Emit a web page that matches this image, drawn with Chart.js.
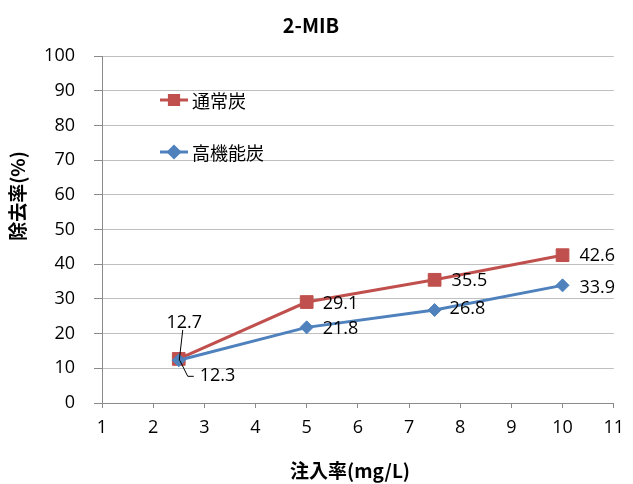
<!DOCTYPE html>
<html>
<head>
<meta charset="utf-8">
<script src="https://cdn.jsdelivr.net/npm/chart.js@4/dist/chart.umd.min.js"></script>
<style>
  html,body{margin:0;padding:0;background:#fff;}
  #wrap{width:633px;height:484px;}
</style>
</head>
<body>
<div id="wrap"><canvas id="c" width="633" height="484"></canvas></div>
<script>
// data
const doses = [2.5, 5, 7.5, 10];
const normal = [12.7, 29.1, 35.5, 42.6];
const highPerf = [12.3, 21.8, 26.8, 33.9];
const names = ['通常炭', '高機能炭'];
const chartTitle = '2-MIB';
const xTitle = '注入率(mg/L)';
const yTitle = '除去率(%)';

// label placement (offset from point, px)
const normalLbl = [{dx:5.5,dy:-36,align:'center',leader:'up'},{dx:16,dy:2},{dx:17,dy:1.5},{dx:17,dy:1}];
const highLbl = [{dx:21,dy:16,leader:'elbow'},{dx:16,dy:1.5},{dx:15,dy:-1},{dx:17,dy:3}];

const RED='#C0504D', BLUE='#4F81BD';
const numFont = '18px "Open Sans"';
const jpFont = '"Noto Sans CJK JP"';

const pts = ys => doses.map((x,i)=>({x, y:ys[i]}));

const decor = {
  id:'decor',
  afterDatasetsDraw(chart){
    const ctx = chart.ctx;
    ctx.save();
    // data labels
    ctx.font = numFont; ctx.fillStyle = '#000'; ctx.textBaseline = 'middle';
    chart.data.datasets.forEach((ds,di)=>{
      const meta = chart.getDatasetMeta(di);
      ds.lbl.forEach((l,i)=>{
        const p = meta.data[i];
        const tx = p.x + l.dx, ty = p.y + l.dy;
        ctx.textAlign = l.align || 'left';
        ctx.fillText(ds.data[i].y.toFixed(1), tx, ty);
        if (l.leader){
          ctx.strokeStyle = '#000'; ctx.lineWidth = 1;
          ctx.beginPath();
          if (l.leader==='up'){
            ctx.moveTo(tx-1.5, ty+7); ctx.lineTo(p.x+0.5, p.y+1.5);
          } else {
            ctx.moveTo(p.x+1, p.y); ctx.lineTo(tx-12, ty); ctx.lineTo(tx-6, ty);
          }
          ctx.stroke();
        }
      });
    });
    // legend
    const legY = [100, 152];
    chart.data.datasets.forEach((ds,di)=>{
      const y = legY[di];
      ctx.strokeStyle = ds.borderColor; ctx.lineWidth = 3;
      ctx.beginPath(); ctx.moveTo(160,y); ctx.lineTo(188,y); ctx.stroke();
      ctx.fillStyle = ds.borderColor; ctx.strokeStyle = ds.borderColor;
      Chart.helpers.drawPoint(ctx, {pointStyle:ds.pointStyle, radius: ds.pointStyle==='rect'?6.5:5.5, rotation:0, borderWidth:1}, 174, y);
      ctx.fillStyle = '#000'; ctx.font = '18px '+jpFont; ctx.textAlign='left'; ctx.textBaseline='middle';
      ctx.fillText(ds.label, 192, y+1);
    });
    // titles
    ctx.fillStyle = '#000';
    ctx.textAlign = 'center'; ctx.textBaseline = 'middle';
    ctx.font = 'bold 20px '+jpFont;
    ctx.fillText(chartTitle, 311, 25);
    ctx.font = 'bold 19px '+jpFont;
    ctx.fillText(xTitle, 350, 471);
    ctx.translate(18, 196); ctx.rotate(-Math.PI/2);
    ctx.fillText(yTitle, 0, 0);
    ctx.restore();
  }
};

new Chart(document.getElementById('c'), {
  type:'line',
  data:{datasets:[
    {label:names[0], data:pts(normal), lbl:normalLbl, borderColor:RED, backgroundColor:RED,
     borderWidth:3, pointStyle:'rect', pointRadius:9, pointBorderWidth:1, order:2},
    {label:names[1], data:pts(highPerf), lbl:highLbl, borderColor:BLUE, backgroundColor:BLUE,
     borderWidth:3, pointStyle:'rectRot', pointRadius:6.5, pointBorderWidth:1, order:1}
  ]},
  options:{
    responsive:false, animation:false,
    layout:{padding:{top:56, right:19, left:0, bottom:0}},
    plugins:{legend:{display:false}, tooltip:{enabled:false}, title:{display:false}},
    scales:{
      x:{type:'linear', min:1, max:11,
         ticks:{stepSize:1, color:'#000', font:{family:'Open Sans', size:18}, padding:9, maxRotation:0},
         grid:{drawOnChartArea:false, tickLength:5, tickColor:'#8a8a8a'},
         border:{color:'#8a8a8a'},
         afterFit(s){ s.height = 81; }},
      y:{min:0, max:100,
         ticks:{stepSize:10, color:'#000', font:{family:'Open Sans', size:18}, padding:19},
         grid:{color:'#bfbfbf', tickLength:8, tickColor:'#8a8a8a'},
         border:{color:'#8a8a8a'},
         afterFit(s){ s.width = 102; }}
    }
  },
  plugins:[decor]
});
</script>
</body>
</html>
